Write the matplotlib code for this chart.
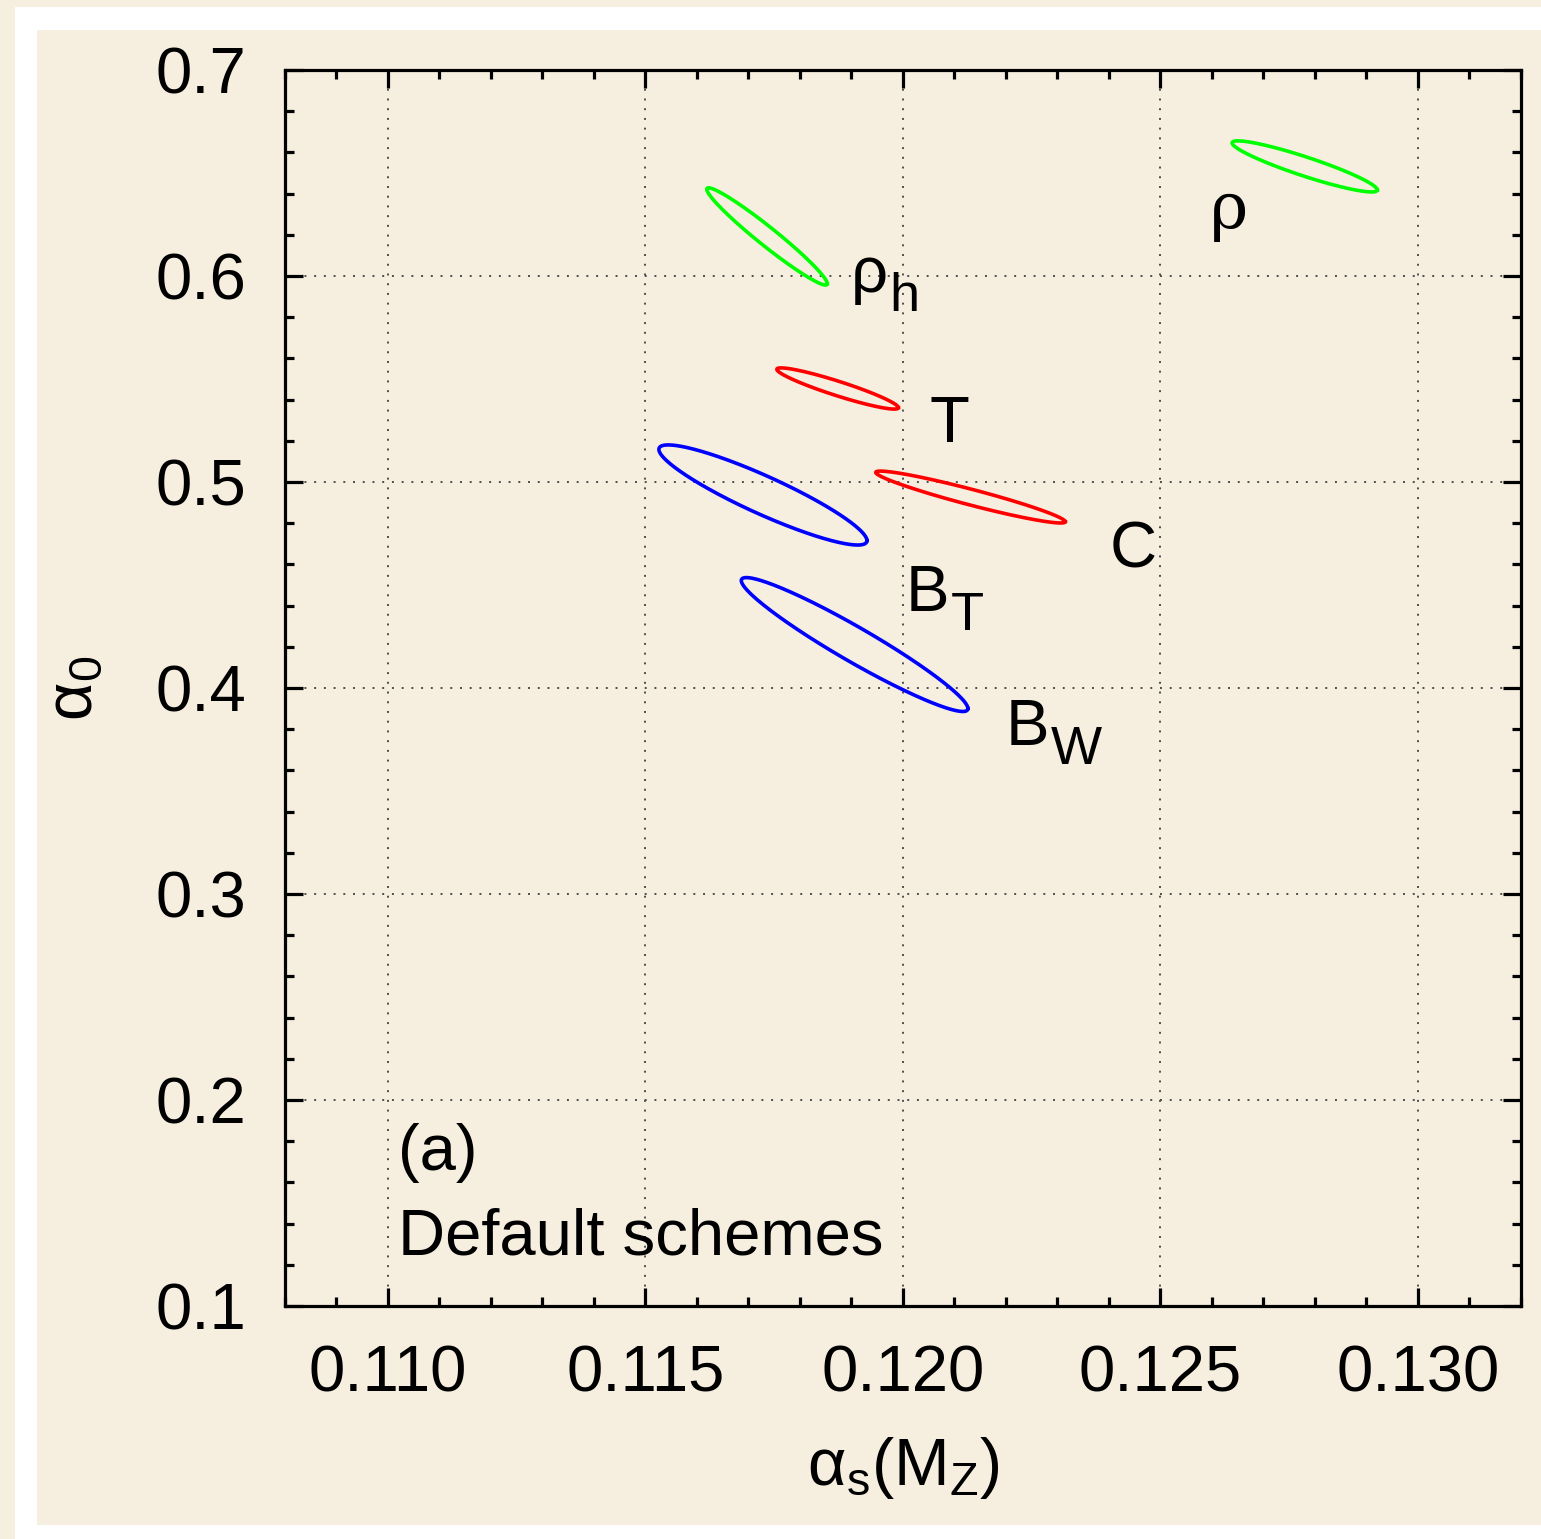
import numpy as np
import matplotlib.pyplot as plt
from matplotlib.patches import Rectangle
from matplotlib.ticker import MultipleLocator

plt.rcParams['font.family'] = ['Liberation Sans', 'DejaVu Sans']
plt.rcParams['mathtext.fontset'] = 'custom'
plt.rcParams['mathtext.rm'] = 'Liberation Sans'
plt.rcParams['mathtext.it'] = 'Liberation Sans:italic'

# fit contours: centre, widths and correlation in (alpha_s, alpha_0)
names = ['ρ', 'ρ_h', 'T', 'C', 'B_T', 'B_W']
as_centre = [0.12780, 0.11736, 0.11873, 0.12131, 0.11728, 0.11906]
a0_centre = [0.6532, 0.6192, 0.5454, 0.4927, 0.4937, 0.4211]
as_sigma = [0.00141, 0.00117, 0.00118, 0.00184, 0.00202, 0.00220]
a0_sigma = [0.0124, 0.0236, 0.0100, 0.0126, 0.0243, 0.0325]
corr = [-0.92, -0.97, -0.93, -0.95, -0.91, -0.955]
colours = ['#00ff00', '#00ff00', '#ff0000', '#ff0000', '#0000ff', '#0000ff']

x_ticks = [0.110, 0.115, 0.120, 0.125, 0.130]
x_labels = ['0.110', '0.115', '0.120', '0.125', '0.130']
y_ticks = [0.1, 0.2, 0.3, 0.4, 0.5, 0.6, 0.7]

beige = '#f6efe0'

fig = plt.figure(figsize=(15.41, 15.39), dpi=100)
fig.patch.set_facecolor(beige)
W, H = 1541.0, 1539.0
# white frame and inner panel
fig.patches.append(Rectangle((15 / W, 0), 1, 1 - 7 / H, transform=fig.transFigure,
                             facecolor='white', edgecolor='none', zorder=-2))
fig.patches.append(Rectangle((37 / W, 1 - 1525 / H), 1, (1525 - 30) / H,
                             transform=fig.transFigure, facecolor=beige,
                             edgecolor='none', zorder=-1))

ax = fig.add_axes([285 / W, 1 - 1306 / H, (1521 - 285) / W, (1306 - 70) / H])
ax.set_facecolor(beige)

t = np.linspace(0, 2 * np.pi, 400)
for i in range(len(names)):
    x = as_centre[i] + as_sigma[i] * np.cos(t)
    y = a0_centre[i] + a0_sigma[i] * (corr[i] * np.cos(t) +
                                      np.sqrt(1 - corr[i] ** 2) * np.sin(t))
    ax.plot(x, y, color=colours[i], lw=2.6)

fs = 47


def label(x, y, main, sub=None, **kw):
    txt = ax.text(x, y, main, fontsize=fs, ha='left', va='baseline', **kw)
    if sub:
        ax.annotate(sub, xy=(1, 0), xycoords=txt, xytext=(1, -4),
                    textcoords='offset points', fontsize=fs * 0.83,
                    ha='left', va='baseline')
    return txt


label(0.12595, 0.6233, 'ρ', family='DejaVu Serif')
label(0.11898, 0.5922, 'ρ', 'h')
label(0.12089 - 0.00038, 0.5194, 'T')
label(0.12445 - 0.00044, 0.4587, 'C')
label(0.12006, 0.4374, 'B', 'T')
label(0.12200, 0.3723, 'B', 'W')
label(0.11019, 0.1660, '(a)')
label(0.11019, 0.1248, 'Default schemes')

ax.set_xlim(0.108, 0.132)
ax.set_ylim(0.1, 0.7)
ax.set_xticks(x_ticks)
ax.set_xticklabels(x_labels)
ax.set_yticks(y_ticks)
ax.xaxis.set_minor_locator(MultipleLocator(0.001))
ax.yaxis.set_minor_locator(MultipleLocator(0.02))
ax.tick_params(which='both', direction='in', top=True, right=True, width=2.3,
               labelsize=47)
ax.tick_params(which='major', length=13)
ax.tick_params(which='minor', length=6.5)
ax.tick_params(axis='x', pad=28)
ax.tick_params(axis='y', pad=28)
for s in ax.spines.values():
    s.set_linewidth(2.3)
ax.grid(True, which='major', color='0.3', linestyle=(0, (1, 4)), lw=1.4)

ax.set_xlabel(r'$\mathrm{α_s(M_Z)}$', fontsize=48, labelpad=22)
ax.set_ylabel(r'$\mathrm{α_0}$', fontsize=48, labelpad=36)

fig.savefig('out.png', dpi=100, facecolor=fig.get_facecolor())
